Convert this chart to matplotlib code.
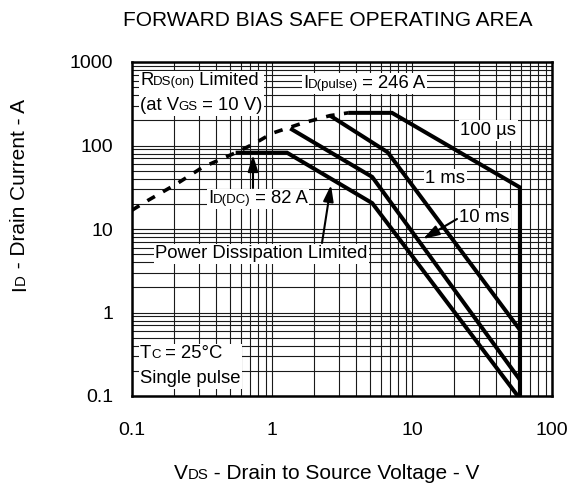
import matplotlib
matplotlib.use('Agg')
import matplotlib.pyplot as plt
import matplotlib.transforms as mtransforms
from matplotlib import font_manager, ft2font
from matplotlib.patches import Rectangle
from matplotlib.ticker import LogLocator, NullFormatter, FixedLocator, FixedFormatter

FAMILY = 'Liberation Sans'
plt.rcParams['font.family'] = [FAMILY, 'DejaVu Sans']

# values
x_ticks = [0.1, 1, 10, 100]
x_tick_labels = ['0.1', '1', '10', '100']
y_ticks = [0.1, 1, 10, 100, 1000]
y_tick_labels = ['0.1', '1', '10', '100', '1000']

# RDS(on) limit (dashed)
rds_v = [0.1, 0.13, 0.21, 0.32, 0.56, 0.76, 1.0, 1.66, 2.6, 3.5]
rds_i = [16.8, 22, 35, 55, 83, 107, 140, 186, 228, 246]

# pulse / DC limits
us100_v = [3.5, 7.2, 59, 59]
us100_i = [246, 246, 31.5, 0.1]
ms1_v = [2.6, 6.7, 59]
ms1_i = [228, 83, 0.62]
ms10_v = [1.35, 5.2, 59]
ms10_i = [160, 42, 0.156]
dc_v = [0.55, 1.28, 5.2, 57]
dc_i = [82, 82, 20.4, 0.1]

W, H = 570, 487
L, R, T, B = 132, 552, 62, 396
DPI = 100

fig = plt.figure(figsize=(W / DPI, H / DPI), dpi=DPI)
ax = fig.add_axes([L / W, 1 - B / H, (R - L) / W, (B - T) / H])
renderer = fig.canvas.get_renderer()
_font = ft2font.FT2Font(font_manager.findfont(font_manager.FontProperties(family=FAMILY)),
                        hinting_factor=1)


def advance(s, size):
    # typographic advance width of a string, in pixels
    _font.set_size(size, DPI)
    return sum(_font.load_char(ord(c)).linearHoriAdvance for c in s) / 65536


def axf(x, y):
    # pixel position in the picture -> axes fraction
    return (x - L) / (R - L), (B - y) / (B - T)


def figf(x, y):
    return x / W, 1 - y / H


def rich_text(x, y, parts, size, trans, ha='left', rotation=0, small=0.72):
    # alternating normal / small pieces, small ones sit on the same baseline
    sizes = [size * small if k % 2 else size for k in range(len(parts))]
    lengths = [advance(s, fs) for s, fs in zip(parts, sizes)]
    start = -sum(lengths) / 2 if ha == 'center' else 0.0
    texts = []
    for s, fs, n in zip(parts, sizes, lengths):
        dx, dy = (0, start) if rotation else (start, 0)
        t = ax.text(x, y, s, fontsize=fs, ha='left', va='baseline',
                    rotation=rotation, rotation_mode='anchor', zorder=6, clip_on=False,
                    transform=mtransforms.offset_copy(trans, fig=fig, x=dx, y=dy, units='dots'))
        texts.append(t)
        start += n
    return [t.get_window_extent(renderer) for t in texts]


def white_box(bbs, pad=1.5):
    bb = mtransforms.Bbox.union(bbs)
    (x0, y0), (x1, y1) = ax.transAxes.inverted().transform(
        [[bb.x0 - pad, bb.y0 - pad], [bb.x1 + pad, bb.y1 + pad]])
    ax.add_patch(Rectangle((x0, y0), x1 - x0, y1 - y0, transform=ax.transAxes,
                           fc='white', ec='none', zorder=4))


ax.set_xscale('log')
ax.set_yscale('log')
ax.set_xlim(0.1, 100)
ax.set_ylim(0.1, 1000)

lw = 2.9
ax.plot(rds_v, rds_i, color='black', lw=2.6, linestyle=(0, (2.4, 2.6)), zorder=3)
for v, i in [(us100_v, us100_i), (ms1_v, ms1_i), (ms10_v, ms10_i), (dc_v, dc_i)]:
    ax.plot(v, i, color='black', lw=lw, solid_joinstyle='miter', solid_capstyle='butt', zorder=3)

ax.xaxis.set_major_locator(FixedLocator(x_ticks))
ax.xaxis.set_major_formatter(FixedFormatter(x_tick_labels))
ax.yaxis.set_major_locator(FixedLocator(y_ticks))
ax.yaxis.set_major_formatter(FixedFormatter(y_tick_labels))
for a in (ax.xaxis, ax.yaxis):
    a.set_minor_locator(LogLocator(base=10, subs=range(2, 10), numticks=20))
    a.set_minor_formatter(NullFormatter())
ax.grid(True, which='both', color='0.1', lw=0.8)
ax.set_axisbelow(True)
ax.tick_params(which='both', length=0, labelsize=14)
ax.tick_params(axis='x', pad=19)
ax.tick_params(axis='y', pad=13.5)
for s in ax.spines.values():
    s.set_linewidth(1.8)

# title and axis labels
fig.text(*figf(328, 26), 'FORWARD BIAS SAFE OPERATING AREA', ha='center', va='baseline', fontsize=15)
rich_text(*figf(328, 479), ['V', 'DS', ' - Drain to Source Voltage - V'], 15, fig.transFigure, ha='center')
rich_text(*figf(25, 194), ['I', 'D', ' - Drain Current - A'], 15, fig.transFigure, ha='center', rotation=90)

# annotations inside the plot
fs = 13.3
b1 = rich_text(*axf(140, 85), ['R', 'DS(on)', ' Limited'], fs, ax.transAxes)
b2 = rich_text(*axf(140, 110), ['(at V', 'GS', ' = 10 V)'], fs, ax.transAxes)
white_box(b1 + b2)
white_box(rich_text(*axf(303, 88), ['I', 'D(pulse)', ' = 246 A'], fs, ax.transAxes))
white_box(rich_text(*axf(460, 135), ['100 µs'], fs, ax.transAxes))
white_box(rich_text(*axf(425, 183), ['1 ms'], fs, ax.transAxes))
white_box(rich_text(*axf(459, 222), ['10 ms'], fs, ax.transAxes))
white_box(rich_text(*axf(208, 203), ['I', 'D(DC)', ' = 82 A'], fs, ax.transAxes))
white_box(rich_text(*axf(155, 258), ['Power Dissipation Limited'], fs, ax.transAxes))
b1 = rich_text(*axf(140, 358), ['T', 'C', ' = 25°C'], fs, ax.transAxes)
b2 = rich_text(*axf(140, 383), ['Single pulse'], fs, ax.transAxes)
white_box(b1 + b2)

arrow = dict(arrowstyle='-|>,head_length=0.7,head_width=0.22', color='black', lw=1.5,
             shrinkA=0, shrinkB=0, mutation_scale=14)
for tail, tip in [((253, 188), (253, 155)), ((322, 243), (331, 185)), ((457, 219), (423, 239))]:
    ax.annotate('', xy=axf(*tip), xytext=axf(*tail), xycoords='axes fraction',
                textcoords='axes fraction', arrowprops=arrow, zorder=6)

fig.savefig('out.png', dpi=DPI)
